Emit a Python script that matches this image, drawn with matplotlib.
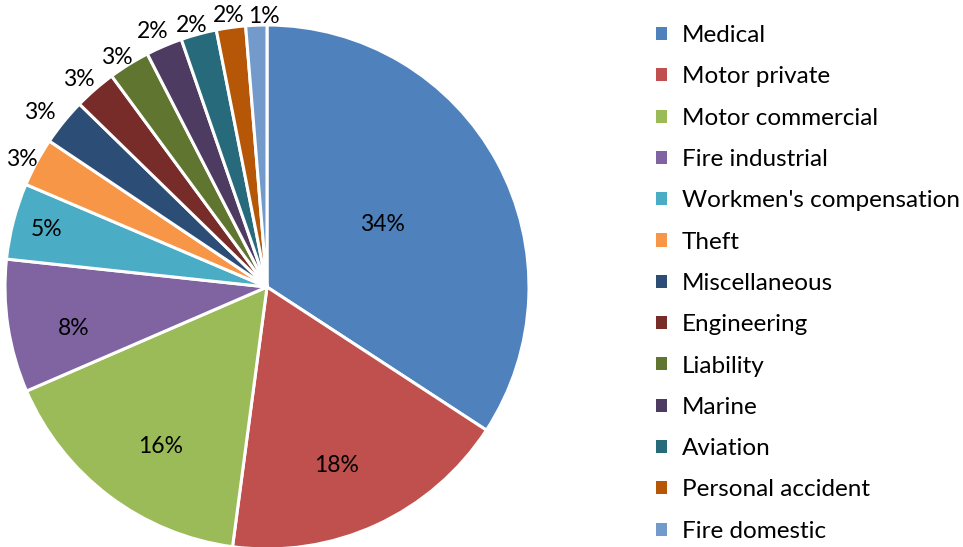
import matplotlib.pyplot as plt
import numpy as np

plt.rcParams['font.family'] = ['Lato', 'DejaVu Sans']

categories = ["Medical", "Motor private", "Motor commercial", "Fire industrial",
              "Workmen's compensation", "Theft", "Miscellaneous", "Engineering",
              "Liability", "Marine", "Aviation", "Personal accident", "Fire domestic"]
shares = [34.2, 17.9, 16.4, 8.2, 4.7, 3.0, 2.9, 2.6, 2.55, 2.25, 2.2, 1.8, 1.3]
colors = ["#4F81BD", "#C0504D", "#9BBB59", "#8064A2", "#4BACC6", "#F79646",
          "#2C4D75", "#772C2A", "#5F7530", "#4D3B62", "#276A7C", "#B65708", "#729ACA"]
# label placement: distance from centre (fraction of radius), clockwise turn from wedge middle (deg)
label_r = [0.5, 0.733, 0.73, 0.756, 0.87, 1.053, 1.095, 1.07, 1.045, 1.07, 1.04, 1.045, 1.034]
label_turn = [0, 3.4, -3.4, -3.4, 0, -1.0, -1.5, -1.1, -1.4, -1.0, -1.0, -0.2, 1.7]

W, H = 963, 547
fig = plt.figure(figsize=(W / 100, H / 100), dpi=100)
cx, cy, R = 267, 287, 262
ax = fig.add_axes([(cx - R) / W, (H - cy - R) / H, 2 * R / W, 2 * R / H])

wedges, _ = ax.pie(shares, colors=colors, startangle=90, counterclock=False,
                   radius=1, wedgeprops=dict(edgecolor="white", linewidth=2.2))
ax.set_xlim(-1, 1)
ax.set_ylim(-1, 1)
ax.axis("off")

total = sum(shares)
for w, v, r, t in zip(wedges, shares, label_r, label_turn):
    mid = np.deg2rad((w.theta1 + w.theta2) / 2 - t)
    ax.text(r * np.cos(mid), r * np.sin(mid), "%.0f%%" % (100 * v / total),
            ha="center", va="center", fontsize=16.5, color="black")

handles = [plt.Rectangle((0, 0), 1, 1, facecolor=c) for c in colors]
fig.legend(handles, categories, loc="upper left", bbox_to_anchor=(644 / W, 1 - 13 / H),
           frameon=False, fontsize=17.5, handlelength=0.45, handleheight=0.45,
           handletextpad=0.6, labelspacing=0.835, borderpad=0)

fig.savefig("out.png", dpi=100)
